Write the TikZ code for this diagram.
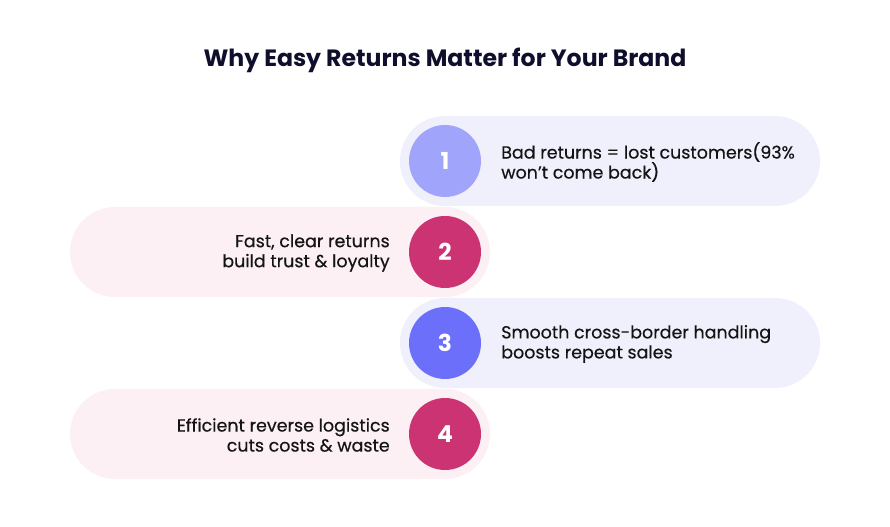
\documentclass[tikz,border=0pt]{standalone}
\usepackage{fontspec}
\setmainfont{Poppins}
\newfontfamily\bodyfont[FakeBold=0.4]{Poppins}
\definecolor{lav}{HTML}{F0F0FC}
\definecolor{pnk}{HTML}{FCF0F4}
\definecolor{cone}{HTML}{A1A4FB}
\definecolor{cthree}{HTML}{6B6FF9}
\definecolor{cmag}{HTML}{CB3372}
\definecolor{ttl}{HTML}{0F0F2D}
\definecolor{txt}{HTML}{141414}
\begin{document}
\begin{tikzpicture}[x=0.75pt,y=-0.75pt,
  pillL/.style={fill=lav,rounded corners=33.75pt},
  pillP/.style={fill=pnk,rounded corners=33.75pt},
  num/.style={circle,minimum size=54pt,inner sep=0pt,text=white,font=\fontsize{17.5}{20}\selectfont\bfseries},
  lbl/.style={text=txt,font=\bodyfont\fontsize{13.1}{15}\selectfont,inner sep=0pt},
  ]
\useasboundingbox (0,0) rectangle (890,527);
\fill[white] (0,0) rectangle (890,527);
\node[text=ttl,font=\fontsize{17.7}{20}\selectfont\bfseries] (title) at (445,60) {Why Easy Returns Matter for Your Brand};
% pills
\fill[pillL] (400,116) rectangle (820,206);
\fill[pillP] (70,207) rectangle (490,297);
\fill[pillL] (400,298) rectangle (820,388);
\fill[pillP] (70,389) rectangle (490,479);
% circles
\node[num,fill=cone] (n1) at (445,161) {1};
\node[num,fill=cmag] (n2) at (445,252) {2};
\node[num,fill=cthree] (n3) at (445,343) {3};
\node[num,fill=cmag] (n4) at (445,434) {4};
% labels
\node[lbl,anchor=west,align=left] (t1) at (501,162) {Bad returns = lost customers(93\%\\won’t come back)};
\node[lbl,anchor=east,align=right] (t2) at (390,253) {Fast, clear returns\\build trust \& loyalty};
\node[lbl,anchor=west,align=left] (t3) at (501,344) {Smooth cross-border handling\\boosts repeat sales};
\node[lbl,anchor=east,align=right] (t4) at (390,435) {Efficient reverse logistics\\cuts costs \& waste};
\end{tikzpicture}
\end{document}
